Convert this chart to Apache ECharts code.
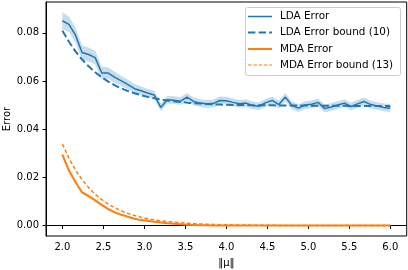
<!DOCTYPE html>
<html><head><meta charset="utf-8">
<script src="https://cdn.jsdelivr.net/npm/echarts@6/dist/echarts.min.js"></script>
<style>html,body{margin:0;padding:0;background:#fff}#c{width:408px;height:270px}</style>
</head><body><div id="c"></div>
<script>
const xValues = [2.00,2.08,2.16,2.24,2.32,2.40,2.48,2.56,2.64,2.72,2.80,2.88,2.96,3.04,3.12,3.20,3.28,3.36,3.44,3.52,3.60,3.68,3.76,3.84,3.92,4.00,4.08,4.16,4.24,4.32,4.40,4.48,4.56,4.64,4.72,4.80,4.88,4.96,5.04,5.12,5.20,5.28,5.36,5.44,5.52,5.60,5.68,5.76,5.84,5.92,6.00];
const ldaError = [0.0850,0.0835,0.0790,0.0718,0.0710,0.0697,0.0633,0.0633,0.0615,0.0600,0.0585,0.0568,0.0559,0.0550,0.0542,0.0490,0.0522,0.0520,0.0516,0.0533,0.0515,0.0508,0.0505,0.0506,0.0519,0.0518,0.0511,0.0505,0.0508,0.0498,0.0495,0.0510,0.0519,0.0502,0.0533,0.0498,0.0487,0.0500,0.0503,0.0511,0.0485,0.0492,0.0500,0.0508,0.0494,0.0505,0.0515,0.0502,0.0496,0.0490,0.0487];
const ldaSpread = [0.0035,0.0033,0.0031,0.0029,0.0029,0.0029,0.0026,0.0024,0.0022,0.0021,0.0020,0.0019,0.0018,0.0017,0.0017,0.0016,0.0016,0.0016,0.0016,0.0017,0.0016,0.0016,0.0016,0.0016,0.0016,0.0016,0.0016,0.0016,0.0016,0.0016,0.0016,0.0016,0.0016,0.0016,0.0017,0.0016,0.0016,0.0016,0.0016,0.0016,0.0016,0.0016,0.0016,0.0016,0.0016,0.0016,0.0016,0.0016,0.0016,0.0016,0.0016];
const ldaBound = [0.0809,0.0763,0.0723,0.0689,0.0661,0.0636,0.0615,0.0597,0.0582,0.0569,0.0558,0.0549,0.0541,0.0534,0.0528,0.0523,0.0519,0.0516,0.0513,0.0510,0.0508,0.0506,0.0504,0.0503,0.0502,0.0501,0.0500,0.0500,0.0500,0.0499,0.0499,0.0499,0.0499,0.0498,0.0498,0.0498,0.0498,0.0498,0.0497,0.0497,0.0497,0.0497,0.0497,0.0497,0.0496,0.0496,0.0496,0.0496,0.0496,0.0496,0.0496];
const mdaError = [0.0294,0.0228,0.0180,0.0137,0.0122,0.0104,0.0085,0.0068,0.0054,0.0044,0.0036,0.0028,0.0022,0.0019,0.0015,0.0012,0.0009,0.0007,0.0005,0.0003,0.0002,0.0001,0.0001,0,0,0,0,0,0,0,0,0,0,0,0,0,0,0,0,0,0,0,0,0,0,0,0,0,0,0,0];
const mdaSpread = [0.0008,0.0008,0.0008,0.0007,0.0007,0.0006,0.0006,0.0005,0.0005,0.0004,0.0004,0.0003,0.0003,0.0003,0.0002,0.0002,0.0002,0.0001,0.0001,0.0001,0.0001,0,0,0,0,0,0,0,0,0,0,0,0,0,0,0,0,0,0,0,0,0,0,0,0,0,0,0,0,0,0];
const mdaBound = [0.0338,0.0279,0.0230,0.0190,0.0157,0.0129,0.0107,0.0088,0.0073,0.0060,0.0050,0.0041,0.0034,0.0028,0.0023,0.0019,0.0016,0.0013,0.0011,0.0009,0.0007,0.0006,0.0005,0.0004,0.0003,0.0003,0.0002,0.0002,0.0002,0.0001,0.0001,0.0001,0.0001,0,0,0,0,0,0,0,0,0,0,0,0,0,0,0,0,0,0];
const xTicks = [2.0,2.5,3.0,3.5,4.0,4.5,5.0,5.5,6.0];
const yTicks = [0.00,0.02,0.04,0.06,0.08];
const legendNames = ['LDA Error','LDA Error bound (10)','MDA Error','MDA Error bound (13)'];

const BLUE = '#1f77b4', ORANGE = '#ff7f0e';
const FONT = 'DejaVu Sans';
function pairs(ys){ return xValues.map((x,i)=>[x,ys[i]]); }
function bandData(mean, spread){ return xValues.map((x,i)=>[x, mean[i]-spread[i], mean[i]+spread[i]]); }

function bandSeries(name, mean, spread, color){
  const data = bandData(mean, spread);
  return {
    type:'custom', name:name, silent:true, animation:false, z:1,
    data:data, encode:{x:0, y:[1,2]},
    renderItem:function(params, api){
      if (params.dataIndex !== 0) return null;
      const upper = data.map(d=>api.coord([d[0], d[2]]));
      const lower = data.map(d=>api.coord([d[0], d[1]])).reverse();
      return {type:'polygon', shape:{points:upper.concat(lower)}, style:{fill:color, stroke:null}};
    }
  };
}

const chart = echarts.init(document.getElementById('c'), null, {renderer:'canvas'});
const base = {type:'line', symbol:'none', silent:true, animation:false, z:3};
const legendRows = [16.5, 32.5, 49, 65];
const legendStyles = [
  {stroke:BLUE, lineWidth:1.5, lineDash:null},
  {stroke:BLUE, lineWidth:2, lineDash:[7.4,3.2]},
  {stroke:ORANGE, lineWidth:2, lineDash:null},
  {stroke:ORANGE, lineWidth:1, lineDash:[3.7,1.6]}
];
const graphic = [{type:'rect', z:100, shape:{x:245.5, y:7.5, width:155, height:68, r:2},
  style:{fill:'rgba(255,255,255,0.85)', stroke:'#cccccc', lineWidth:1}}];
legendNames.forEach((n,i)=>{
  graphic.push({type:'line', z:101, shape:{x1:248, y1:legendRows[i], x2:272, y2:legendRows[i]}, style:legendStyles[i]});
  graphic.push({type:'text', z:101, x:280, y:legendRows[i], style:{text:n, font:'10.4px "DejaVu Sans"', fill:'#000', verticalAlign:'middle'}});
});

chart.setOption({
  animation:false,
  backgroundColor:'#fff',
  textStyle:{fontFamily:FONT},
  grid:{left:46, right:1.3, top:2, bottom:34, show:true, borderColor:'#000', borderWidth:1, containLabel:false, outerBoundsMode:'none'},
  xAxis:{type:'value', min:1.8, max:6.2,
    name:'\u2016\u03bc\u2016', nameLocation:'middle', nameGap:22, nameMoveOverlap:false,
    nameTextStyle:{fontFamily:FONT, fontSize:10, color:'#000'},
    axisLine:{show:true, lineStyle:{color:'#000', width:1}},
    axisTick:{show:true, inside:false, length:3.5, lineStyle:{color:'#000'}, customValues:xTicks},
    axisLabel:{customValues:xTicks, formatter:v=>Number(v).toFixed(1), fontFamily:FONT, fontSize:10, color:'#000', margin:6},
    splitLine:{show:false}},
  yAxis:{type:'value', min:-0.0044, max:0.0928,
    name:'Error', nameLocation:'middle', nameGap:34, nameMoveOverlap:false,
    nameTextStyle:{fontFamily:FONT, fontSize:10, color:'#000'},
    axisLine:{show:true, lineStyle:{color:'#000', width:1}},
    axisTick:{show:true, inside:false, length:3.5, lineStyle:{color:'#000'}, customValues:yTicks},
    axisLabel:{customValues:yTicks, formatter:v=>Number(v).toFixed(2), fontFamily:FONT, fontSize:10, color:'#000', margin:7},
    splitLine:{show:false}},
  series:[
    bandSeries('ldaBand', ldaError, ldaSpread, 'rgba(31,119,180,0.25)'),
    bandSeries('mdaBand', mdaError, mdaSpread, 'rgba(255,127,14,0.25)'),
    Object.assign({}, base, {name:'LDA Error', data:pairs(ldaError), lineStyle:{color:BLUE, width:1.5}}),
    Object.assign({}, base, {name:'LDA Error bound (10)', data:pairs(ldaBound), lineStyle:{color:BLUE, width:2, type:[7.4,3.2]}}),
    Object.assign({}, base, {name:'MDA Error', data:pairs(mdaError), lineStyle:{color:ORANGE, width:2}}),
    Object.assign({}, base, {name:'MDA Error bound (13)', data:pairs(mdaBound), lineStyle:{color:ORANGE, width:1.5, type:[3.7,2.4]}})
  ],
  graphic:graphic
});
</script></body></html>
